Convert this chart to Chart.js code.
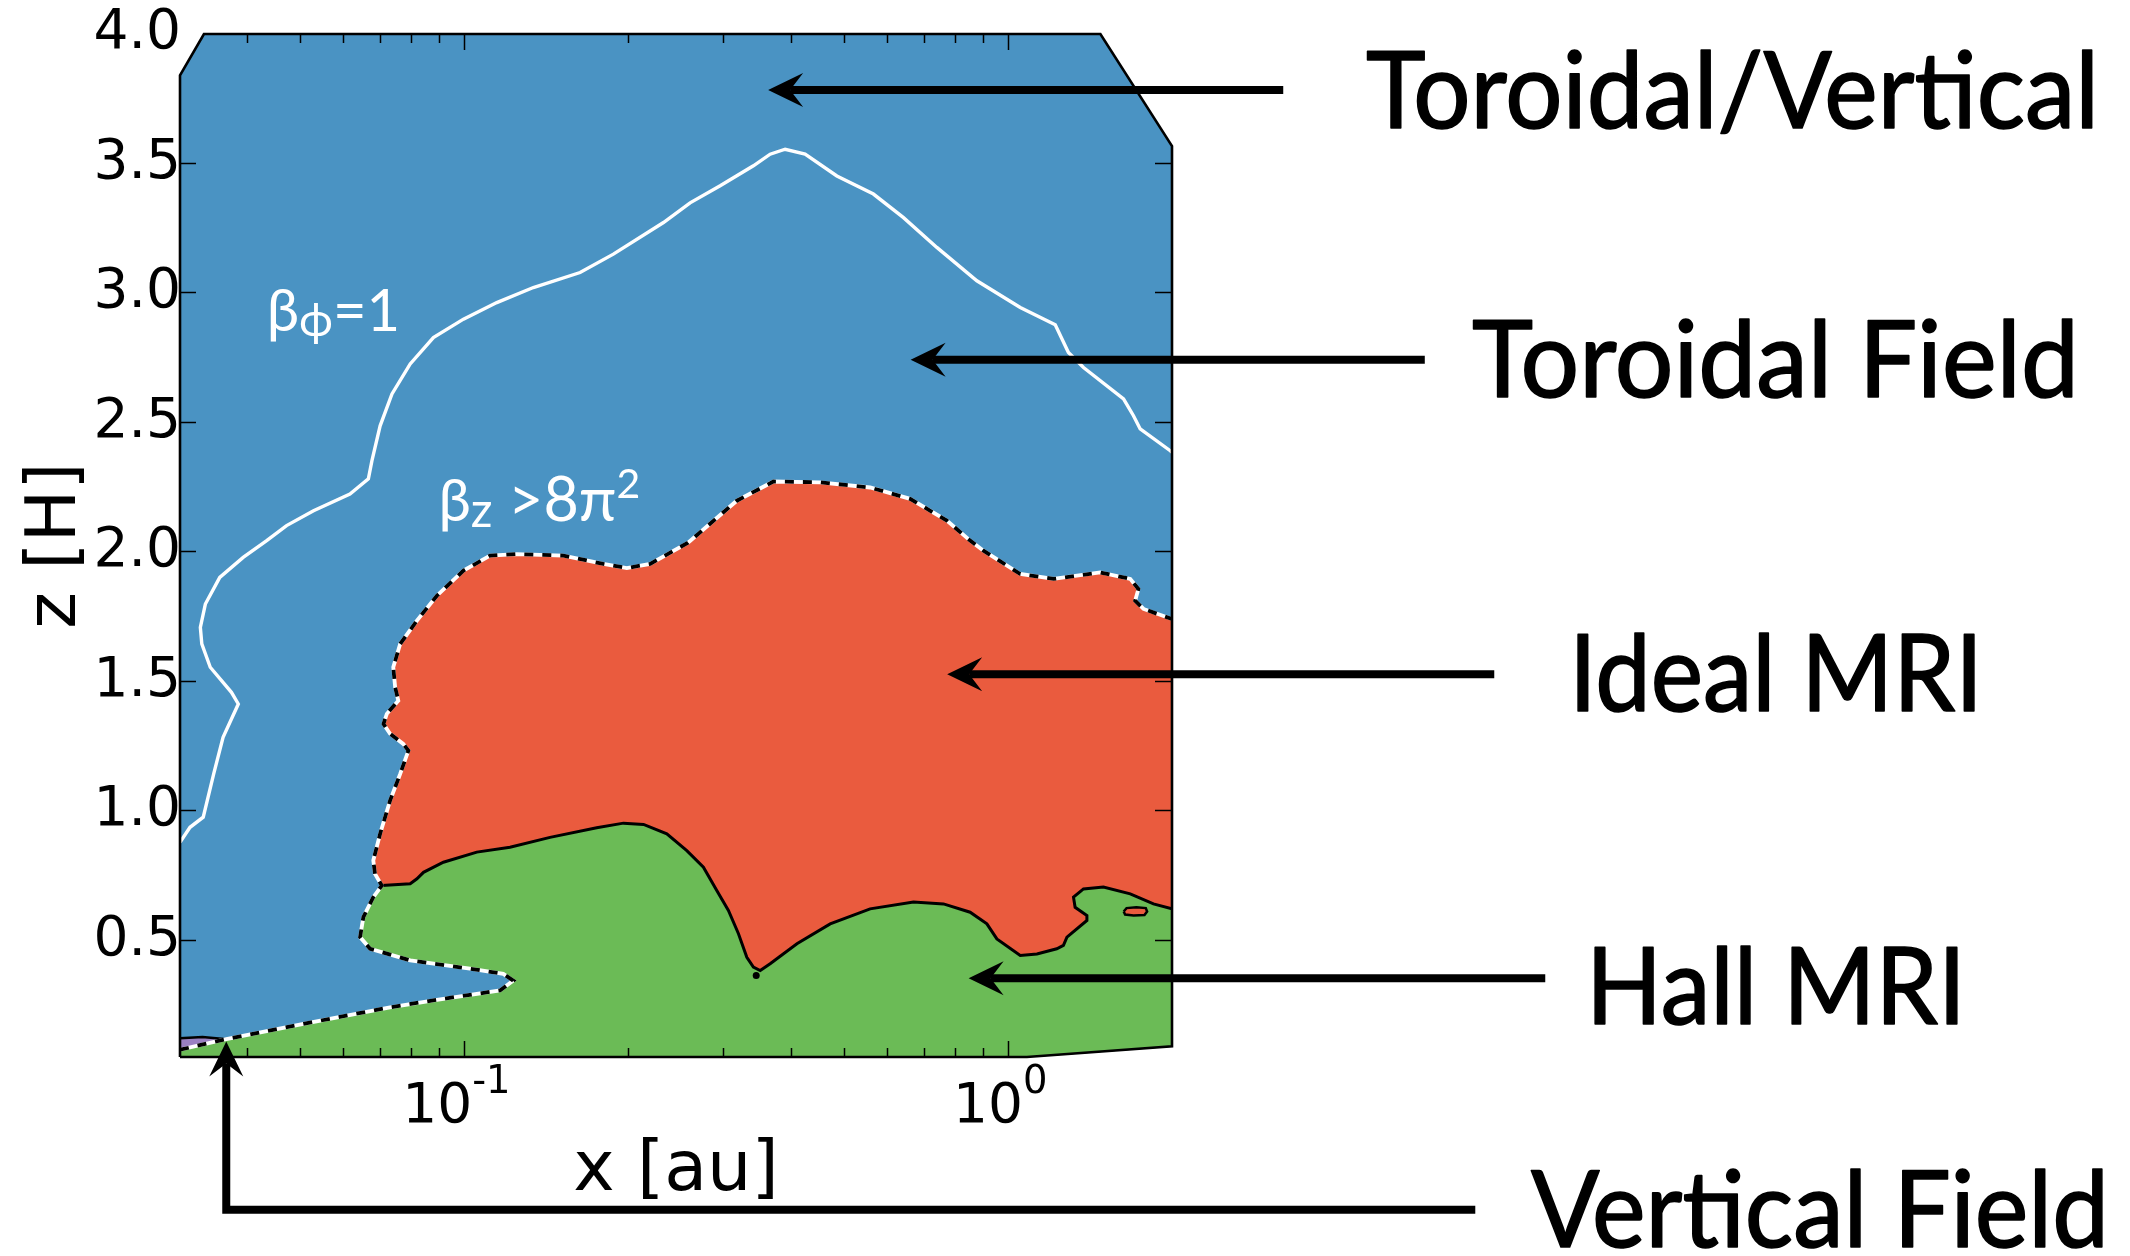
<!DOCTYPE html>
<html>
<head>
<meta charset="utf-8">
<title>Field regions</title>
<script src="https://cdn.jsdelivr.net/npm/chart.js@4.4.1/dist/chart.umd.min.js"></script>
<style>
  html, body { margin:0; padding:0; background:#fff; }
  canvas { display:block; }
</style>
</head>
<body>
<canvas id="regions" width="2130" height="1256"></canvas>
<script>
(function(){
  // --- ticks ---
  const xTicks = [0.04,0.05,0.06,0.07,0.08,0.09,0.1,0.2,0.3,0.4,0.5,0.6,0.7,0.8,0.9,1.0];
  const zTicks = [0.5,1.0,1.5,2.0,2.5,3.0,3.5,4.0];

  // --- simulation domain (x [au], z [H]) ---
  const domainX = [0.0300, 0.0300, 0.0332, 1.477, 2.000, 2.000, 1.082];
  const domainZ = [0.050, 3.840, 4.000, 4.000, 3.567, 0.091, 0.050];

  // beta_phi = 1 contour (white)
  const betaPhiX = [0.0300,0.0313,0.0331,0.0346,0.0360,0.0384,0.0373,0.0341,0.0329,0.0327,0.0334,0.0355,0.0392,0.0433,0.0471,0.0528,0.0616,0.0666,0.0676,0.0700,0.0736,0.0795,0.0877,0.0996,0.1147,0.1339,0.1632,0.1879,0.2323,0.2600,0.2953,0.3399,0.3649,0.3888,0.4231,0.4840,0.5650,0.6417,0.7390,0.8755,1.052,1.220,1.290,1.375,1.629,1.699,1.748,1.985,2.000];
  const betaPhiZ = [0.879,0.937,0.976,1.143,1.284,1.413,1.458,1.555,1.645,1.709,1.799,1.902,1.979,2.044,2.102,2.159,2.224,2.282,2.352,2.487,2.610,2.726,2.828,2.899,2.963,3.021,3.079,3.150,3.272,3.348,3.414,3.491,3.536,3.555,3.536,3.452,3.382,3.291,3.176,3.047,2.944,2.877,2.770,2.712,2.591,2.526,2.475,2.391,2.385];

  // beta_z = 8 pi^2 contour, lower part (blue / green) up to the junction
  const betaZLowX = [0.0300,0.0363,0.0506,0.0730,0.0890,0.1163,0.1230,0.1179,0.1024,0.0795,0.0671,0.0643,0.0652,0.0680,0.0705];
  const betaZLowZ = [0.078,0.118,0.178,0.242,0.271,0.307,0.345,0.371,0.391,0.423,0.468,0.513,0.590,0.667,0.712];
  // upper part (blue / red) from the junction to the right edge
  const betaZUpX = [0.0705,0.0685,0.0680,0.0700,0.0730,0.0762,0.0789,0.0772,0.0730,0.0710,0.0720,0.0756,0.0746,0.0740,0.0762,0.0818,0.0890,0.0996,0.1115,0.1248,0.1521,0.1801,0.1989,0.2196,0.2578,0.3169,0.3700,0.4509,0.5572,0.6600,0.7711,0.8509,0.9003,1.052,1.211,1.476,1.676,1.735,1.711,1.773,2.000];
  const betaZUpZ = [0.712,0.757,0.809,0.912,1.040,1.143,1.233,1.259,1.298,1.336,1.375,1.426,1.477,1.555,1.645,1.735,1.831,1.928,1.986,1.992,1.986,1.954,1.938,1.954,2.036,2.198,2.272,2.269,2.249,2.205,2.121,2.044,2.005,1.915,1.896,1.921,1.896,1.857,1.812,1.780,1.741];

  // Hall / ideal MRI boundary (solid black)
  const hallX = [0.0705,0.0795,0.0818,0.0841,0.0915,0.1054,0.1213,0.1437,0.1751,0.1961,0.2135,0.2356,0.2564,0.2751,0.2911,0.3058,0.3191,0.3306,0.3399,0.3499,0.3649,0.4087,0.4705,0.5572,0.6694,0.7602,0.8509,0.9134,0.9528,1.052,1.129,1.228,1.263,1.282,1.395,1.395,1.327,1.318,1.375,1.496,1.676,1.849,2.000];
  const hallZ = [0.712,0.719,0.738,0.763,0.802,0.841,0.860,0.898,0.935,0.953,0.948,0.912,0.847,0.783,0.693,0.616,0.526,0.435,0.397,0.384,0.410,0.487,0.564,0.622,0.648,0.641,0.609,0.564,0.506,0.442,0.448,0.468,0.481,0.513,0.577,0.596,0.628,0.667,0.699,0.706,0.680,0.641,0.622];

  // small pieces
  const islandX = [1.630,1.650,1.720,1.790,1.800,1.780,1.700,1.640,1.630];
  const islandZ = [0.612,0.625,0.628,0.625,0.612,0.598,0.596,0.600,0.612];
  const purpleX = [0.0300,0.0300,0.0330,0.0366];
  const purpleZ = [0.078,0.122,0.127,0.119];
  const dotX = [0.344];
  const dotZ = [0.365];

  const BLUE = '#4a93c3', RED = '#ea5b3e', GREEN = '#6bbb56', PURPLE = '#9a80c2';

  function pts(xs, zs){ return xs.map((x,i)=>({ x, y: zs[i] })); }
  const isDecade = v => Math.abs(Math.log10(v) - Math.round(Math.log10(v))) < 1e-6;

  const domain = pts(domainX, domainZ);
  const low = pts(betaZLowX, betaZLowZ);
  const up = pts(betaZUpX, betaZUpZ);
  const hall = pts(hallX, hallZ);
  const redShape = up.concat(hall.slice().reverse());
  const greenShape = low.concat(hall.slice(1), [domain[5], domain[6], domain[0]]);
  const dashed = low.concat(up.slice(1));

  function area(data, color, order){
    return { data, showLine: true, fill: 'shape', backgroundColor: color, borderColor: color, borderWidth: 1, pointRadius: 0, tension: 0, order };
  }
  function line(data, color, width, order, dash){
    return { data, showLine: true, fill: false, borderColor: color, borderWidth: width, borderDash: dash || [], pointRadius: 0, tension: 0, order, borderCapStyle: 'butt' };
  }

  // --- annotations ---
  const arrows = [
    [[3.203, 3.784], [0.3618, 3.784]],
    [[5.832, 2.742], [0.6614, 2.742]],
    [[7.826, 1.528], [0.7721, 1.528]],
    [[9.712, 0.354], [0.8454, 0.354]],
    [[7.222, -0.540], [0.03649, -0.540], [0.03649, 0.110]]
  ];
  const sideLabels = [
    { text: 'Toroidal/Vertical', left: 1366, base: 128, width: 733 },
    { text: 'Toroidal Field', left: 1472, base: 397, width: 607 },
    { text: 'Ideal MRI', left: 1569, base: 711, width: 414 },
    { text: 'Hall MRI', left: 1586, base: 1024, width: 380 },
    { text: 'Vertical Field', left: 1531, base: 1247, width: 578 }
  ];
  const innerLabels = [
    { at: [0.0433, 2.854], parts: [['\u03B2', 58, 0], ['\u03D5', 46, 5], ['=1', 58, 0]] },
    { at: [0.0896, 2.121], parts: [['\u03B2', 58, 0], ['z', 48, 6], [' >8\u03C0', 61, 0], ['2', 41, -23]] }
  ];
  const LABEL_FONT = 'Lato, "Noto Sans", sans-serif';
  const TICK_FAMILY = '"DejaVu Sans"';

  function drawArrow(ctx, p){
    const n = p.length;
    const tx = p[n-1][0], ty = p[n-1][1];
    const ang = Math.atan2(ty - p[n-2][1], tx - p[n-2][0]);
    const ux = Math.cos(ang), uy = Math.sin(ang);
    const headLen = 35, half = 17, notch = 22;
    ctx.beginPath();
    ctx.moveTo(p[0][0], p[0][1]);
    for(let i=1;i<n-1;i++) ctx.lineTo(p[i][0], p[i][1]);
    ctx.lineTo(tx - ux*notch, ty - uy*notch);
    ctx.stroke();
    ctx.beginPath();
    ctx.moveTo(tx, ty);
    ctx.lineTo(tx - ux*headLen - uy*half, ty - uy*headLen + ux*half);
    ctx.lineTo(tx - ux*notch, ty - uy*notch);
    ctx.lineTo(tx - ux*headLen + uy*half, ty - uy*headLen - ux*half);
    ctx.closePath();
    ctx.fill();
  }

  const annotate = {
    id: 'annotate',
    afterDraw(chart){
      const ctx = chart.ctx, sx = chart.scales.x, sy = chart.scales.y;
      ctx.save();
      ctx.textBaseline = 'alphabetic';
      // decade labels with raised exponent (10^n)
      ctx.fillStyle = '#000';
      const base = sx.top + 65;
      xTicks.filter(isDecade).forEach(v => {
        const ex = String(Math.round(Math.log10(v)));
        ctx.font = '55px ' + TICK_FAMILY; const wb = ctx.measureText('10').width;
        ctx.font = '38.5px ' + TICK_FAMILY; const we = ctx.measureText(ex).width;
        const left = sx.getPixelForValue(v) - (wb + we) / 2 - 8;
        ctx.font = '55px ' + TICK_FAMILY; ctx.fillText('10', left, base);
        ctx.font = '38.5px ' + TICK_FAMILY; ctx.fillText(ex, left + wb, base - 29);
      });
      // inner labels
      ctx.fillStyle = '#fff';
      innerLabels.forEach(l => {
        let px = sx.getPixelForValue(l.at[0]);
        const py = sy.getPixelForValue(l.at[1]);
        l.parts.forEach(([t, size, dy]) => {
          ctx.font = size + 'px ' + LABEL_FONT;
          ctx.fillText(t, px, py + dy);
          px += ctx.measureText(t).width;
        });
      });
      // arrows
      ctx.strokeStyle = '#000'; ctx.fillStyle = '#000';
      ctx.lineWidth = 8; ctx.lineJoin = 'miter'; ctx.lineCap = 'butt';
      arrows.forEach(a => drawArrow(ctx, a.map(([x,z]) => [sx.getPixelForValue(x), sy.getPixelForValue(z)])));
      // side labels
      ctx.font = '106px ' + LABEL_FONT;
      ctx.lineJoin = 'round';
      sideLabels.forEach(l => {
        const w = ctx.measureText(l.text).width;
        ctx.save();
        ctx.translate(l.left, l.base);
        ctx.scale(l.width / w, 1);
        ctx.fillText(l.text, 0, 0);
        ctx.lineWidth = 1.6;
        ctx.strokeText(l.text, 0, 0);
        ctx.restore();
      });
      ctx.restore();
    }
  };

  const tickFont = { family: 'DejaVu Sans', size: 55 };
  const titleFont = { family: 'DejaVu Sans', size: 70 };
  const noPad = s => { s.paddingTop = 0; s.paddingBottom = 0; s.paddingLeft = 0; s.paddingRight = 0; };

  new Chart(document.getElementById('regions'), {
    type: 'scatter',
    data: {
      datasets: [
        area(domain, BLUE, 20),
        area(redShape, RED, 19),
        area(greenShape, GREEN, 18),
        area(pts(purpleX, purpleZ), PURPLE, 17),
        Object.assign(area(pts(islandX, islandZ), RED, 16), { borderColor: '#000', borderWidth: 2.5 }),
        line(pts(betaPhiX, betaPhiZ), '#fff', 3.4, 15),
        line(hall, '#000', 3, 14),
        line(pts(purpleX.slice(1), purpleZ.slice(1)), '#000', 2.5, 13),
        line(dashed, '#fff', 3.8, 12),
        line(dashed, '#000', 3.8, 11, [9, 9]),
        { data: pts(dotX, dotZ), showLine: false, pointRadius: 3.5, pointBackgroundColor: '#000', pointBorderWidth: 0, order: 10 },
        Object.assign(line(domain.concat([domain[0]]), '#000', 2.6, 9), { clip: false, borderJoinStyle: 'miter' })
      ]
    },
    options: {
      responsive: false,
      animation: false,
      devicePixelRatio: 1,
      events: [],
      layout: { padding: { left: 0, top: 34, right: 958, bottom: 0 } },
      plugins: { legend: { display: false }, tooltip: { enabled: false } },
      scales: {
        x: {
          type: 'logarithmic', position: 'bottom', min: 0.03, max: 2.0,
          afterBuildTicks: s => { s.ticks = xTicks.map(v => ({ value: v, major: isDecade(v) })); },
          afterFit: s => { s.height = 199; noPad(s); },
          border: { display: false },
          grid: { z: 1, drawOnChartArea: false, tickLength: -16, tickWidth: 1.5, tickColor: '#000',
                  tickBorderDash: c => (c.tick && !isDecade(c.tick.value)) ? [9, 40] : [] },
          ticks: { autoSkip: false, maxRotation: 0, minRotation: 0, color: '#000', font: tickFont, callback: () => '' },
          title: { display: true, text: 'x [au]', color: '#000', font: titleFont, padding: { top: 0, bottom: 42 } }
        },
        x2: {
          type: 'logarithmic', position: 'top', min: 0.03, max: 2.0,
          afterBuildTicks: s => { s.ticks = xTicks.map(v => ({ value: v, major: isDecade(v) })); },
          afterFit: s => { s.height = 0; noPad(s); },
          border: { display: false },
          grid: { z: 1, drawOnChartArea: false, tickLength: -16, tickWidth: 1.5, tickColor: '#000',
                  tickBorderDash: c => (c.tick && !isDecade(c.tick.value)) ? [0, 7, 9, 40] : [] },
          ticks: { display: false, autoSkip: false }
        },
        y: {
          type: 'linear', position: 'left', min: 0.05, max: 4.0,
          afterBuildTicks: s => { s.ticks = zTicks.map(v => ({ value: v })); },
          afterFit: s => { s.width = 180; noPad(s); },
          border: { display: false },
          grid: { z: 1, drawOnChartArea: false, tickLength: -16, tickWidth: 1.5,
                  tickColor: c => (c.tick && c.tick.value > 3.84) ? 'rgba(0,0,0,0)' : '#000' },
          ticks: { autoSkip: false, padding: 15, color: '#000', font: tickFont, callback: v => Number(v).toFixed(1) },
          title: { display: true, text: 'z [H]', color: '#000', font: titleFont, padding: { top: 15, bottom: 0 } }
        },
        y2: {
          type: 'linear', position: 'right', min: 0.05, max: 4.0,
          afterBuildTicks: s => { s.ticks = zTicks.map(v => ({ value: v })); },
          afterFit: s => { s.width = 0; noPad(s); },
          border: { display: false },
          grid: { z: 1, drawOnChartArea: false, tickLength: -17, tickWidth: 1.5,
                  tickColor: c => (c.tick && c.tick.value > 3.56) ? 'rgba(0,0,0,0)' : '#000' },
          ticks: { display: false, autoSkip: false }
        }
      }
    },
    plugins: [annotate]
  });
})();
</script>
</body>
</html>
